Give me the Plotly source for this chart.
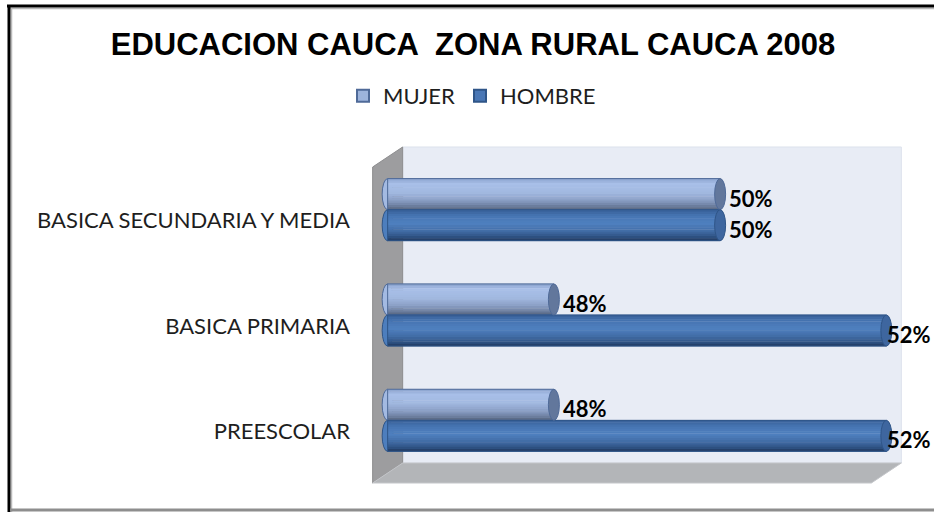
import plotly.graph_objects as go

# ---- data -------------------------------------------------------------
CATEGORIES = ["PREESCOLAR", "BASICA PRIMARIA", "BASICA SECUNDARIA Y MEDIA"]
SERIES = ["MUJER", "HOMBRE"]
MUJER = [0.48, 0.48, 0.50]
HOMBRE = [0.52, 0.52, 0.50]
TITLE = "EDUCACION CAUCA  ZONA RURAL CAUCA 2008"

# ---- geometry / style -------------------------------------------------
W, H = 934, 512
X_MIN, X_MAX, X_PAD = 0.46, 0.52, 0.0008
ML, MR, MT, MB = 381, 41, 157, 39
PW, PH = W - ML - MR, H - MT - MB
UNIT_PX = PW / (X_MAX - X_MIN + 2 * X_PAD)
BAR_W = 0.295            # bar thickness in category units
CAP = 5.5 / UNIT_PX      # half-width of the cylinder end ellipse
N_STRIPES = 14
DEPTH_X, DEPTH_Y = 30, 20

STYLE = {
    "MUJER": dict(
        offset=0.0,
        stops=[(0.0, "#8aa2cd"), (0.18, "#a8bfe8"), (0.45, "#a2b9e1"),
               (0.7, "#8ba0c6"), (0.88, "#6e80a1"), (1.0, "#56657f")],
        cap="#62779c", edge="#4f6a98", legend="#9db4dc"),
    "HOMBRE": dict(
        offset=-BAR_W,
        stops=[(0.0, "#375f97"), (0.22, "#4776b4"), (0.45, "#4f80bf"),
               (0.7, "#416ca5"), (0.88, "#2f5384"), (1.0, "#213a60")],
        cap="#3e669f", edge="#2f5588", legend="#4a77b5"),
}
VALUES = {"MUJER": MUJER, "HOMBRE": HOMBRE}


def hex_rgb(c):
    c = c.lstrip("#")
    return tuple(int(c[i:i + 2], 16) for i in (0, 2, 4))


def grad(stops, t):
    for (t0, c0), (t1, c1) in zip(stops, stops[1:]):
        if t0 <= t <= t1:
            f = (t - t0) / (t1 - t0) if t1 > t0 else 0
            a, b = hex_rgb(c0), hex_rgb(c1)
            return "rgb(%d,%d,%d)" % tuple(round(a[k] + (b[k] - a[k]) * f) for k in range(3))
    return stops[-1][1]


def px(x):
    return (x - ML) / PW


def py(y):
    return (H - MB - y) / PH


def xpix(v):
    return ML + (v - (X_MIN - X_PAD)) * UNIT_PX


pos = list(range(len(CATEGORIES)))
fig = go.Figure()

# cylinders: stacked horizontal stripes give the round shading
for name in SERIES:
    st = STYLE[name]
    vals = VALUES[name]
    for i in range(N_STRIPES):
        t = (i + 0.5) / N_STRIPES
        sw = BAR_W / N_STRIPES
        fig.add_trace(go.Bar(
            x=[v - X_MIN for v in vals], y=pos, base=X_MIN, orientation="h",
            offset=st["offset"] + BAR_W - (i + 1) * sw - 0.002, width=sw + 0.004,
            marker=dict(color=grad(st["stops"], t), line=dict(width=0)),
            showlegend=False, hoverinfo="skip"))
    fig.add_trace(go.Bar(
        x=[v - X_MIN for v in vals], y=pos, base=X_MIN, orientation="h",
        offset=st["offset"], width=BAR_W,
        marker=dict(color="rgba(0,0,0,0)", line=dict(color=st["edge"], width=1)),
        showlegend=False, hoverinfo="skip"))
    # legend entry
    fig.add_trace(go.Bar(
        x=[None], y=[None], orientation="h", name=name,
        marker=dict(color=st["legend"], line=dict(color=st["edge"], width=2))))

shapes = []
# back wall, side wall and floor of the 3-D box
mid_l, mid_r = xpix(X_MIN), xpix(X_MAX)
top, bot = MT, H - MB
bl, br = mid_l + DEPTH_X / 2, mid_r + DEPTH_X / 2
fl, fr = mid_l - DEPTH_X / 2, mid_r - DEPTH_X / 2
bt, bb = top - DEPTH_Y / 2, bot - DEPTH_Y / 2
ft, fb = top + DEPTH_Y / 2, bot + DEPTH_Y / 2


def poly(points, fill, line="rgba(0,0,0,0)"):
    path = "M" + " L".join("%f,%f" % (px(a), py(b)) for a, b in points) + " Z"
    return dict(type="path", path=path, xref="paper", yref="paper",
                fillcolor=fill, line=dict(color=line, width=1), layer="below")


shapes.append(poly([(bl, bt), (br, bt), (br, bb), (bl, bb)], "#e8ecf5", "#dde2ec"))
shapes.append(poly([(fl, ft), (bl, bt), (bl, bb), (fl, fb)], "#9d9d9f", "#8d8d8f"))
shapes.append(poly([(fl, fb), (bl, bb), (br, bb), (fr, fb)], "#b3b5b8", "#c4c6ca"))

# cylinder ends
for name in SERIES:
    st = STYLE[name]
    for c, v in zip(pos, VALUES[name]):
        y0, y1 = c + st["offset"], c + st["offset"] + BAR_W
        shapes.append(dict(type="circle", xref="x", yref="y", layer="below",
                           x0=X_MIN - CAP, x1=X_MIN + CAP, y0=y0, y1=y1,
                           fillcolor=grad(st["stops"], 0.4),
                           line=dict(color=st["edge"], width=1)))
        shapes.append(dict(type="circle", xref="x", yref="y",
                           x0=v - CAP, x1=v + CAP, y0=y0, y1=y1,
                           fillcolor=st["cap"], line=dict(color=st["edge"], width=1)))

# chart frame
def seg(x0, y0, x1, y1, color, width):
    return dict(type="line", xref="paper", yref="paper",
                x0=px(x0), y0=py(y0), x1=px(x1), y1=py(y1),
                line=dict(color=color, width=width))


shapes += [
    seg(8, 8.5, W, 8.5, "#b8b8b8", 1.5),
    seg(11.5, 8, 11.5, H, "#b8b8b8", 1.5),
    seg(7, 6, W, 6, "#000000", 3),
    seg(9, 5, 9, H, "#000000", 3),
    seg(10, 510, W, 510, "#8e8e8e", 3),
]

# value labels
LABEL_W = 44
annotations = []
for name in SERIES:
    st = STYLE[name]
    for c, v in zip(pos, VALUES[name]):
        shift = 7
        if xpix(v) + shift + LABEL_W > W - 5:
            shift = max(-3, W - 5 - LABEL_W - xpix(v))
        annotations.append(dict(
            x=v, y=c + st["offset"] + BAR_W / 2, xref="x", yref="y",
            text="%d%%" % round(v * 100), showarrow=False,
            xanchor="left", yanchor="middle", xshift=shift, yshift=-4,
            font=dict(family="Lato", size=22, color="#000000", weight="bold")))

fig.update_layout(
    width=W, height=H,
    margin=dict(l=ML, r=MR, t=MT, b=MB, autoexpand=False),
    paper_bgcolor="white", plot_bgcolor="rgba(0,0,0,0)",
    barmode="overlay",
    title=dict(text=TITLE, xref="container", yref="container",
               x=473 / W, xanchor="center", y=1 - 44 / H, yanchor="middle",
               font=dict(family="Liberation Sans, Arial", size=31,
                         color="#000000", weight="bold")),
    legend=dict(orientation="h", xref="container", yref="container",
                x=472 / W, xanchor="center", y=1 - 96 / H, yanchor="middle",
                font=dict(family="Lato", size=22, color="#1e1e1e"),
                itemwidth=30, traceorder="normal", bgcolor="rgba(0,0,0,0)"),
    xaxis=dict(range=[X_MIN - X_PAD, X_MAX + X_PAD], visible=False, fixedrange=True),
    yaxis=dict(range=[-0.5, len(CATEGORIES) - 0.5], tickvals=pos, ticktext=CATEGORIES,
               showgrid=False, zeroline=False, showline=False, ticks="",
               ticklabelshift=11, ticklabelstandoff=30, automargin=False,
               tickfont=dict(family="Lato", size=22, color="#1e1e1e"),
               fixedrange=True),
    shapes=shapes, annotations=annotations,
    showlegend=True,
)

fig.write_html("out.html")
